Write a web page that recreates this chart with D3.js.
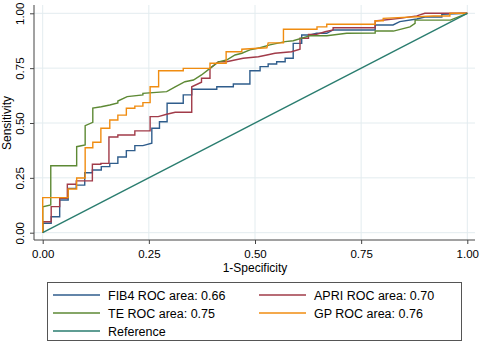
<!DOCTYPE html>
<html>
<head>
<meta charset="utf-8">
<script src="https://cdn.jsdelivr.net/npm/d3@7"></script>
<style>
  body { margin: 0; background: #fff; }
  svg text { font-family: "Liberation Sans", Arial, sans-serif; fill: #000; }
</style>
</head>
<body>
<div id="chart"></div>
<script>
// ROC points: [1-specificity, sensitivity]
var fib4 = [[0,0],[0,.043],[.020,.043],[.020,.073],[.040,.073],[.040,.149],[.060,.149],[.060,.202],
  [.079,.202],[.079,.217],[.099,.217],[.099,.273],[.117,.273],[.117,.286],[.138,.286],[.138,.301],
  [.158,.301],[.158,.316],[.177,.316],[.177,.345],[.197,.345],[.197,.374],[.217,.374],[.217,.397],
  [.236,.397],[.257,.408],[.257,.476],[.275,.476],[.275,.506],[.293,.506],[.293,.590],[.331,.590],
  [.331,.628],[.351,.628],[.351,.654],[.410,.654],[.410,.665],[.449,.665],[.449,.678],[.488,.678],
  [.488,.738],[.512,.738],[.512,.757],[.531,.757],[.531,.769],[.551,.769],[.551,.779],[.571,.779],
  [.571,.795],[.590,.795],[.590,.863],[.610,.863],[.610,.901],[.630,.901],[.645,.909],[.669,.909],
  [.684,.924],[.783,.924],[.783,.947],[.825,.947],[.841,.962],[.881,.974],[.900,.983],[.940,.983],
  [.940,.995],[1,1]];

var apri = [[0,0],[0,.050],[.020,.050],[.020,.119],[.040,.119],[.040,.157],[.058,.157],[.058,.221],
  [.079,.221],[.079,.236],[.117,.236],[.117,.312],[.137,.312],[.137,.316],[.156,.316],[.156,.436],
  [.177,.436],[.177,.445],[.217,.445],[.217,.464],[.253,.464],[.253,.529],[.272,.529],[.292,.540],
  [.312,.549],[.351,.549],[.351,.665],[.374,.686],[.374,.704],[.394,.704],[.394,.749],[.414,.779],
  [.433,.779],[.472,.795],[.508,.802],[.528,.810],[.547,.818],[.586,.825],[.606,.836],[.606,.886],
  [.626,.886],[.626,.904],[.645,.904],[.665,.916],[.684,.924],[.684,.934],[.783,.934],[.783,.965],
  [.841,.977],[.881,.988],[.900,1],[1,1]];

var te = [[0,0],[0,.118],[.019,.126],[.019,.305],[.080,.305],[.080,.392],[.100,.400],[.100,.488],
  [.118,.503],[.118,.568],[.138,.574],[.158,.582],[.177,.591],[.177,.600],[.199,.620],[.236,.628],
  [.236,.635],[.292,.643],[.312,.665],[.335,.688],[.355,.696],[.374,.719],[.394,.749],[.414,.779],
  [.433,.787],[.453,.810],[.469,.818],[.488,.833],[.512,.843],[.535,.856],[.571,.871],[.590,.875],
  [.630,.898],[.669,.898],[.716,.909],[.783,.910],[.783,.919],[.826,.919],[.865,.938],[.877,.954],
  [.877,.969],[.960,.969],[1,1]];

var gp = [[0,0],[0,.160],[.060,.160],[.060,.199],[.080,.199],[.080,.249],[.100,.249],[.100,.387],
  [.118,.387],[.118,.412],[.137,.412],[.137,.476],[.158,.476],[.158,.514],[.177,.514],[.177,.536],
  [.197,.536],[.197,.567],[.217,.567],[.217,.577],[.236,.577],[.236,.593],[.253,.593],[.253,.665],
  [.273,.665],[.273,.738],[.331,.738],[.331,.749],[.394,.749],[.394,.772],[.432,.772],[.432,.825],
  [.469,.825],[.469,.836],[.528,.843],[.531,.865],[.567,.865],[.567,.927],[.646,.927],[.646,.938],
  [.669,.938],[.669,.950],[.783,.950],[.783,.966],[.802,.966],[.802,.977],[.920,.988],[.959,.988],
  [.959,1],[1,1]];

var reference = [[0,0],[1,1]];

var tickValues = [0, 0.25, 0.5, 0.75, 1];
var legendLabels = ["FIB4 ROC area: 0.66", "APRI ROC area: 0.70", "TE ROC area: 0.75",
  "GP ROC area: 0.76", "Reference"];

var series = [
  { name: legendLabels[0], data: fib4, color: "#2f5d8c" },
  { name: legendLabels[1], data: apri, color: "#a13b49" },
  { name: legendLabels[2], data: te, color: "#5d8934" },
  { name: legendLabels[3], data: gp, color: "#f08c10" },
  { name: legendLabels[4], data: reference, color: "#2a7d6f" }
];

var svgWidth = 480, svgHeight = 342;

var svg = d3.select("#chart")
  .append("svg")
  .attr("width", svgWidth)
  .attr("height", svgHeight);

// plot frame edges
var axisLeftX = 34, axisBottomY = 240, plotTop = 5, plotRight = 475;

var xScale = d3.scaleLinear().domain([0, 1]).range([42.7, 467.3]);
var yScale = d3.scaleLinear().domain([0, 1]).range([232.7, 13.3]);

// grid
var gridColor = "#e3ecef";
svg.append("g").selectAll("line.hgrid")
  .data(tickValues)
  .enter()
  .append("line")
  .attr("x1", axisLeftX).attr("x2", plotRight)
  .attr("y1", d => yScale(d)).attr("y2", d => yScale(d))
  .attr("stroke", gridColor).attr("stroke-width", 1);

svg.append("g").selectAll("line.vgrid")
  .data(tickValues)
  .enter()
  .append("line")
  .attr("x1", d => xScale(d)).attr("x2", d => xScale(d))
  .attr("y1", plotTop).attr("y2", axisBottomY)
  .attr("stroke", gridColor).attr("stroke-width", 1);

// axes
var yAxis = d3.axisLeft(yScale).tickValues(tickValues).tickFormat(d3.format(".2f"))
  .tickSize(4).tickSizeOuter(0);
var xAxis = d3.axisBottom(xScale).tickValues(tickValues).tickFormat(d3.format(".2f"))
  .tickSize(4).tickPadding(6).tickSizeOuter(0);

var gy = svg.append("g")
  .attr("transform", `translate(${axisLeftX},0)`)
  .call(yAxis);
gy.select(".domain").remove();
gy.selectAll(".tick line").attr("stroke", "#444");
gy.selectAll(".tick text")
  .attr("transform", "rotate(-90)")
  .attr("x", 0)
  .attr("y", -10)
  .attr("dy", 0)
  .attr("text-anchor", "middle")
  .style("font-size", "11.5px");

var gx = svg.append("g")
  .attr("transform", `translate(0,${axisBottomY})`)
  .call(xAxis);
gx.select(".domain").remove();
gx.selectAll(".tick line").attr("stroke", "#444");
gx.selectAll(".tick text").style("font-size", "11.5px");

svg.append("line")
  .attr("x1", axisLeftX).attr("x2", axisLeftX)
  .attr("y1", plotTop).attr("y2", axisBottomY)
  .attr("stroke", "#444").attr("stroke-width", 1);
svg.append("line")
  .attr("x1", axisLeftX).attr("x2", plotRight)
  .attr("y1", axisBottomY).attr("y2", axisBottomY)
  .attr("stroke", "#444").attr("stroke-width", 1);

// axis titles
svg.append("text")
  .attr("x", xScale(0.5))
  .attr("y", 272)
  .attr("text-anchor", "middle")
  .style("font-size", "12px")
  .text("1-Specificity");

svg.append("text")
  .attr("transform", `translate(11,${yScale(0.5)}) rotate(-90)`)
  .attr("text-anchor", "middle")
  .style("font-size", "12px")
  .text("Sensitivity");

// ROC curves
var line = d3.line()
  .x(d => xScale(d[0]))
  .y(d => yScale(d[1]));

svg.append("g").selectAll("path")
  .data(series)
  .enter()
  .append("path")
  .attr("d", d => line(d.data))
  .attr("fill", "none")
  .attr("stroke", d => d.color)
  .attr("stroke-width", 1.4)
  .attr("stroke-linejoin", "miter");

// legend
var legend = svg.append("g");
legend.append("rect")
  .attr("x", 47.5).attr("y", 282.5)
  .attr("width", 414).attr("height", 58)
  .attr("fill", "#fff")
  .attr("stroke", "#555")
  .attr("stroke-width", 1);

var colX = [53, 259], rowY = [295, 313, 331];

var items = legend.selectAll("g.item")
  .data(series)
  .enter()
  .append("g")
  .attr("transform", (d, i) => `translate(${colX[i % 2]},${rowY[Math.floor(i / 2)]})`);

items.append("line")
  .attr("x1", 0).attr("x2", 47)
  .attr("y1", 0).attr("y2", 0)
  .attr("stroke", d => d.color)
  .attr("stroke-width", 1.4);

items.append("text")
  .attr("x", 55)
  .attr("y", 0)
  .attr("dy", "0.36em")
  .style("font-size", "12.5px")
  .text(d => d.name);
</script>
</body>
</html>
